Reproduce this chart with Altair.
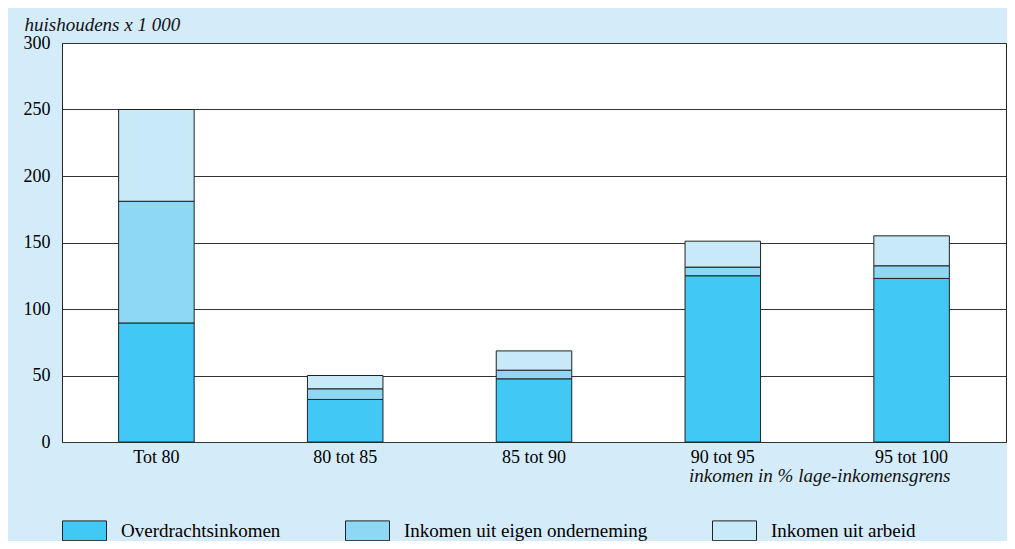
import altair as alt
import pandas as pd

categories = ["Tot 80", "80 tot 85", "85 tot 90", "90 tot 95", "95 tot 100"]
series = ["Overdrachtsinkomen", "Inkomen uit eigen onderneming", "Inkomen uit arbeid"]
overdracht = [89.5, 32, 47.5, 125, 123]
eigen = [91.5, 8, 6.5, 6.5, 9.5]
arbeid = [69, 10, 14.5, 19.5, 22.5]
colors = ["#41c8f4", "#8ed8f6", "#c7e9f8"]
y_ticks = [0, 50, 100, 150, 200, 250, 300]

rows = []
for i, c in enumerate(categories):
    for k, (s, vals) in enumerate(zip(series, [overdracht, eigen, arbeid])):
        rows.append({"cat": c, "serie": s, "value": vals[i], "ord": k})
df = pd.DataFrame(rows)

FONT = "Liberation Serif"

chart = alt.Chart(df).mark_bar(stroke="#222", strokeWidth=1).encode(
    x=alt.X("cat:N", sort=categories,
            scale=alt.Scale(paddingInner=0.6, paddingOuter=0.3),
            axis=alt.Axis(title="inkomen in % lage-inkomensgrens", labelAngle=0, ticks=False,
                          domain=False, labelPadding=6, titleFontStyle="italic",
                          titleAlign="right", titleX=888, titleY=39,
                          titleBaseline="alphabetic")),
    y=alt.Y("value:Q", stack="zero", scale=alt.Scale(domain=[0, 300]),
            axis=alt.Axis(values=y_ticks, title="huishoudens x 1 000", titleAngle=0,
                          titleX=-38, titleY=-13, titleAlign="left",
                          titleBaseline="alphabetic", titleFontStyle="italic",
                          ticks=False, domain=False, labelPadding=12,
                          grid=True, gridColor="#333", gridWidth=1, gridOpacity=1)),
    color=alt.Color("serie:N", scale=alt.Scale(domain=series, range=colors),
                    legend=alt.Legend(title=None, orient="none", legendX=0, legendY=465,
                                      direction="horizontal", columns=3,
                                      symbolType="M-1,-0.45L1,-0.45L1,0.45L-1,0.45Z",
                                      symbolSize=1936, symbolStrokeColor="#222",
                                      symbolStrokeWidth=1, symbolOpacity=1,
                                      labelFontSize=19, labelOffset=14, labelLimit=400,
                                      columnPadding=62)),
    order=alt.Order("ord:Q", sort="ascending"),
).properties(
    width=944, height=399,
    autosize=alt.AutoSizeParams(type="none"),
    padding={"left": 54, "top": 35, "right": 1, "bottom": 99},
).configure(
    background="#d4ecf9"
).configure_view(
    fill="white", stroke="#222", strokeWidth=1
).configure_axis(
    labelFont=FONT, labelFontSize=18, labelColor="black",
    titleFont=FONT, titleFontSize=19, titleColor="#111", titleFontWeight="normal"
).configure_legend(
    labelFont=FONT, labelColor="black"
)

chart.save("out.html", embed_options={"renderer": "svg", "actions": False})
